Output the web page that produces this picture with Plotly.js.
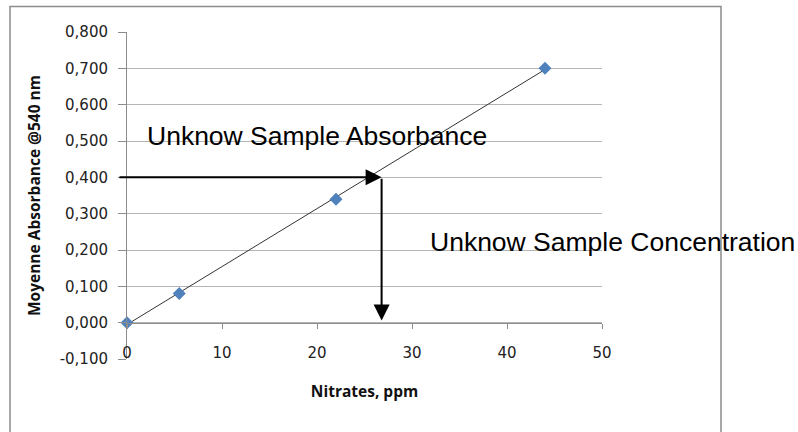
<!DOCTYPE html>
<html>
<head>
<meta charset="utf-8">
<script src="https://cdn.plot.ly/plotly-3.0.1.min.js"></script>
<style>html,body{margin:0;padding:0;background:#fff;}#chart{width:798px;height:432px;}</style>
</head>
<body>
<div id="chart"></div>
<script>
// Data
const nitratesPpm = [0, 5.5, 22, 44];
const absorbance = [0.000, 0.080, 0.340, 0.700];
const unknownAbsorbance = 0.400;
const unknownConcentration = 26.8;
const absLabel = "Unknow Sample Absorbance";
const concLabel = "Unknow Sample Concentration";
const xTickVals = [0, 10, 20, 30, 40, 50];
const xTickText = ["0", "10", "20", "30", "40", "50"];
const yTickVals = [-0.1, 0, 0.1, 0.2, 0.3, 0.4, 0.5, 0.6, 0.7, 0.8];
const yTickText = ["-0,100", "0,000", "0,100", "0,200", "0,300", "0,400", "0,500", "0,600", "0,700", "0,800"];

// Linear trendline (least squares) over the data range
const n = nitratesPpm.length;
const mx = nitratesPpm.reduce((a, b) => a + b, 0) / n;
const my = absorbance.reduce((a, b) => a + b, 0) / n;
let sxy = 0, sxx = 0;
for (let i = 0; i < n; i++) { sxy += (nitratesPpm[i] - mx) * (absorbance[i] - my); sxx += (nitratesPpm[i] - mx) ** 2; }
const slope = sxy / sxx, intercept = my - slope * mx;
const trendX = [Math.min(...nitratesPpm), Math.max(...nitratesPpm)];
const trendY = trendX.map(x => intercept + slope * x);

const traces = [
  {x: trendX, y: trendY, mode: 'lines', line: {color: '#333333', width: 1}, hoverinfo: 'skip', showlegend: false, cliponaxis: false},
  {x: nitratesPpm, y: absorbance, mode: 'markers', marker: {symbol: 'diamond', size: 10, color: '#4f81bd'}, showlegend: false, cliponaxis: false}
];

const arrowStyle = {showarrow: true, arrowhead: 2, arrowsize: 1.6, arrowwidth: 2, arrowcolor: '#000', text: '', standoff: 0, startstandoff: 0, axref: 'x', ayref: 'y'};

const layout = {
  width: 798, height: 432,
  margin: {l: 127, r: 196, t: 32, b: 73},
  paper_bgcolor: '#fff', plot_bgcolor: '#fff',
  showlegend: false,
  font: {family: 'DejaVu Sans', size: 15, color: '#222'},
  xaxis: {
    range: [0, 50], tickvals: xTickVals, ticktext: xTickText,
    showgrid: false, zeroline: false, showline: true, linecolor: '#8c8c8c', linewidth: 1,
    ticks: 'outside', ticklen: 5, tickcolor: '#8c8c8c',
    anchor: 'free', position: 0.1101, ticklabelstandoff: 11,
    tickfont: {family: 'DejaVu Sans', size: 15, color: '#222'},
    title: {text: 'Nitrates, ppm', font: {family: 'Open Sans', size: 15.5, color: '#111', weight: 'bold'}, standoff: 25}
  },
  yaxis: {
    range: [-0.1, 0.8], tickvals: yTickVals, ticktext: yTickText,
    showgrid: true, gridcolor: '#b5b5b5', gridwidth: 1, zeroline: false,
    showline: true, linecolor: '#8c8c8c', linewidth: 1,
    ticks: 'outside', ticklen: 8, tickcolor: '#8c8c8c', ticklabelstandoff: 7,
    tickfont: {family: 'DejaVu Sans', size: 15, color: '#222'},
    title: {text: 'Moyenne Absorbance @540 nm', font: {family: 'Open Sans', size: 15.5, color: '#111', weight: 'bold'}, standoff: 15}
  },
  shapes: [
    {type: 'rect', xref: 'paper', yref: 'paper', x0: (10 - 127) / 475, x1: (721 - 127) / 475, y0: (359 - 445) / 327, y1: (359 - 6.5) / 327, line: {color: '#8c8c8c', width: 1.5}, fillcolor: 'rgba(0,0,0,0)', layer: 'below'}
  ],
  annotations: [
    Object.assign({}, arrowStyle, {x: unknownConcentration, y: unknownAbsorbance, ax: -0.95, ay: unknownAbsorbance}),
    Object.assign({}, arrowStyle, {x: unknownConcentration, y: 0.006, ax: unknownConcentration, ay: unknownAbsorbance}),
    {x: 1.9, y: 0.515, xref: 'x', yref: 'y', text: absLabel, showarrow: false, xanchor: 'left', yanchor: 'middle', font: {family: 'Liberation Sans', size: 26.5, color: '#000'}},
    {x: 31.7, y: 0.222, xref: 'x', yref: 'y', text: concLabel, showarrow: false, xanchor: 'left', yanchor: 'middle', font: {family: 'Liberation Sans', size: 26.5, color: '#000'}}
  ]
};

Plotly.newPlot('chart', traces, layout, {displayModeBar: false, staticPlot: true});
</script>
</body>
</html>
